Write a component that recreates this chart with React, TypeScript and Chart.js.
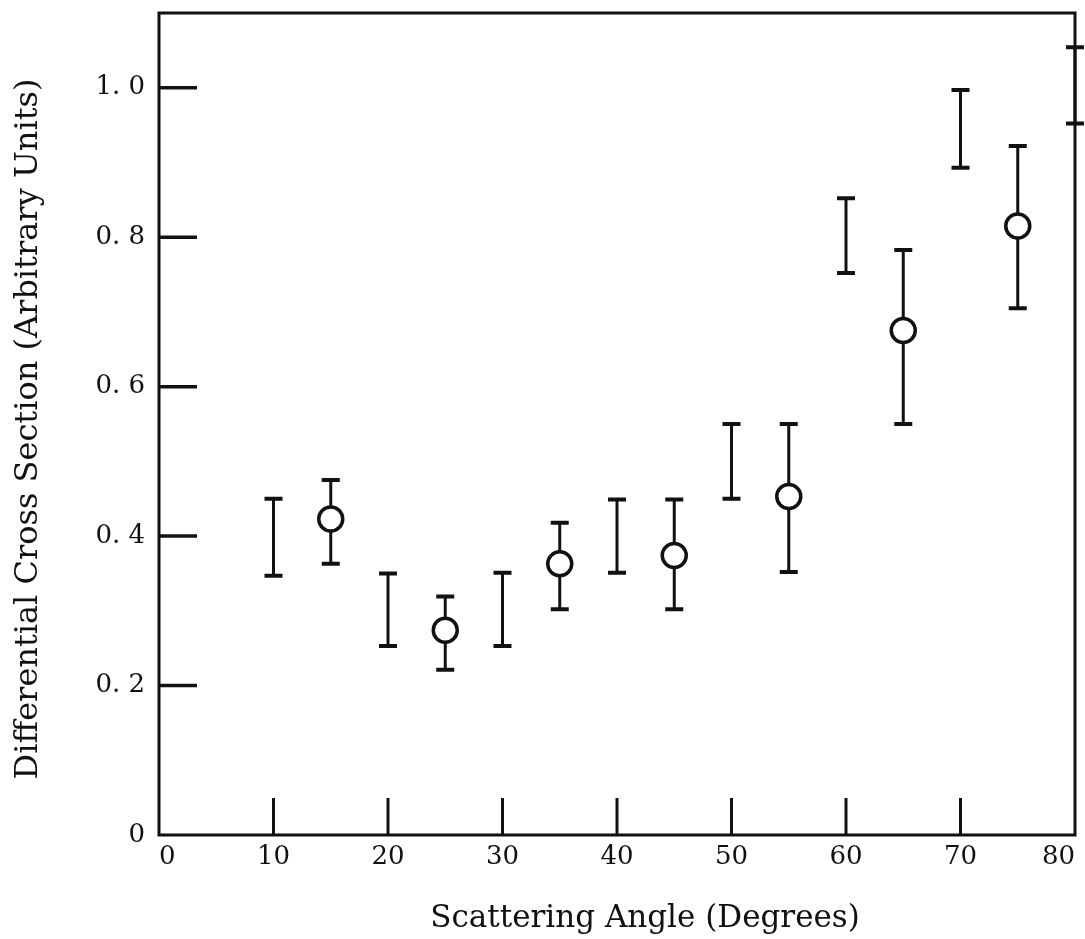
import React, { useEffect, useRef } from "react";
import { Chart, registerables } from "chart.js";

Chart.register(...registerables);

// Open-circle measurements (angle in degrees, cross section, error range)
const circleAngles = [15, 25, 35, 45, 55, 65, 75];
const circleValues = [0.423, 0.274, 0.363, 0.374, 0.453, 0.675, 0.815];
const circleLow = [0.363, 0.221, 0.302, 0.302, 0.352, 0.55, 0.705];
const circleHigh = [0.475, 0.319, 0.418, 0.449, 0.55, 0.783, 0.922];

// Error-bar-only measurements
const barAngles = [10, 20, 30, 40, 50, 60, 70, 80];
const barLow = [0.347, 0.253, 0.253, 0.351, 0.45, 0.752, 0.893, 0.952];
const barHigh = [0.45, 0.35, 0.351, 0.449, 0.55, 0.852, 0.997, 1.054];

// Axis ticks
const xTicks = [0, 10, 20, 30, 40, 50, 60, 70, 80];
const yTicks = [0, 0.2, 0.4, 0.6, 0.8, 1.0];
const yTickLabels = ["0", "0. 2", "0. 4", "0. 6", "0. 8", "1. 0"];

const xTitle = "Scattering Angle (Degrees)";
const yTitle = "Differential Cross Section (Arbitrary Units)";

const FONT = "'DejaVu Serif', serif";
const INK = "#111";

const framePlugin = {
  id: "frameAndBars",
  beforeDatasetsDraw(chart: any) {
    const { ctx, chartArea, scales } = chart;
    const xs = scales.x;
    const ys = scales.y;
    ctx.save();
    ctx.strokeStyle = INK;
    ctx.lineCap = "butt";
    // frame
    ctx.lineWidth = 3;
    ctx.strokeRect(chartArea.left, chartArea.top, chartArea.right - chartArea.left, chartArea.bottom - chartArea.top);
    // inner ticks
    yTicks.forEach((v) => {
      if (v === 0) return;
      const py = ys.getPixelForValue(v);
      ctx.lineWidth = 3.5;
      ctx.beginPath();
      ctx.moveTo(chartArea.left, py);
      ctx.lineTo(chartArea.left + 38, py);
      ctx.stroke();
    });
    xTicks.forEach((v) => {
      if (v === 0 || v === 80) return;
      const px = xs.getPixelForValue(v);
      ctx.lineWidth = 3;
      ctx.beginPath();
      ctx.moveTo(px, chartArea.bottom);
      ctx.lineTo(px, chartArea.bottom - 37);
      ctx.stroke();
    });
    // error bars
    const drawBar = (x: number, lo: number, hi: number) => {
      const px = xs.getPixelForValue(x);
      const pl = ys.getPixelForValue(lo);
      const ph = ys.getPixelForValue(hi);
      ctx.lineWidth = 3;
      ctx.beginPath();
      ctx.moveTo(px, pl);
      ctx.lineTo(px, ph);
      ctx.stroke();
      ctx.lineWidth = 4;
      ctx.beginPath();
      ctx.moveTo(px - 9, pl);
      ctx.lineTo(px + 9, pl);
      ctx.moveTo(px - 9, ph);
      ctx.lineTo(px + 9, ph);
      ctx.stroke();
    };
    barAngles.forEach((a, i) => drawBar(a, barLow[i], barHigh[i]));
    circleAngles.forEach((a, i) => drawBar(a, circleLow[i], circleHigh[i]));
    ctx.restore();
  },
  afterDraw(chart: any) {
    const { ctx } = chart;
    ctx.save();
    ctx.fillStyle = INK;
    ctx.textAlign = "center";
    ctx.textBaseline = "alphabetic";
    ctx.font = `31px ${FONT}`;
    ctx.fillText(xTitle, 645, 927);
    ctx.translate(37, 429);
    ctx.rotate(-Math.PI / 2);
    ctx.font = `32px ${FONT}`;
    ctx.fillText(yTitle, 0, 0);
    ctx.restore();
  },
};

export default function App() {
  const canvasRef = useRef<HTMLCanvasElement | null>(null);

  useEffect(() => {
    const canvas = canvasRef.current;
    if (!canvas) return;
    const chart = new Chart(canvas, {
      type: "scatter",
      data: {
        datasets: [
          {
            label: "measured",
            data: circleAngles.map((a, i) => ({ x: a, y: circleValues[i] })),
            pointRadius: 12,
            pointBorderWidth: 3.5,
            pointBackgroundColor: "#fff",
            pointBorderColor: INK,
            showLine: false,
            clip: false,
          },
        ],
      },
      options: {
        responsive: false,
        animation: false,
        devicePixelRatio: 1,
        layout: { autoPadding: false, padding: { top: 13, right: 10, left: 0, bottom: 0 } },
        plugins: {
          legend: { display: false },
          tooltip: { enabled: false },
        },
        scales: {
          x: {
            type: "linear",
            min: 0,
            max: 80,
            afterFit: (s: any) => {
              s.height = 104;
              s.paddingLeft = 0;
              s.paddingRight = 0;
            },
            afterBuildTicks: (s: any) => {
              s.ticks = xTicks.map((v) => ({ value: v }));
            },
            grid: { display: false, drawTicks: false },
            border: { display: false },
            ticks: {
              align: "inner",
              padding: 7,
              color: INK,
              font: { family: FONT, size: 26 },
              callback: (v: any) => String(v),
            },
          },
          y: {
            type: "linear",
            min: 0,
            max: 1.1,
            afterFit: (s: any) => {
              s.width = 159;
              s.paddingTop = 0;
              s.paddingBottom = 0;
            },
            afterBuildTicks: (s: any) => {
              s.ticks = yTicks.map((v) => ({ value: v }));
            },
            grid: { display: false, drawTicks: false },
            border: { display: false },
            ticks: {
              padding: 14,
              color: INK,
              font: { family: FONT, size: 26 },
              callback: (v: any) => {
                const idx = yTicks.findIndex((t) => Math.abs(t - Number(v)) < 1e-6);
                return idx >= 0 ? yTickLabels[idx] : "";
              },
            },
          },
        },
      },
      plugins: [framePlugin],
    });
    return () => chart.destroy();
  }, []);

  return (
    <div style={{ position: "fixed", left: 0, top: 0, width: 1085, height: 939, background: "#fff" }}>
      <canvas ref={canvasRef} width={1085} height={939} style={{ display: "block" }} />
    </div>
  );
}
